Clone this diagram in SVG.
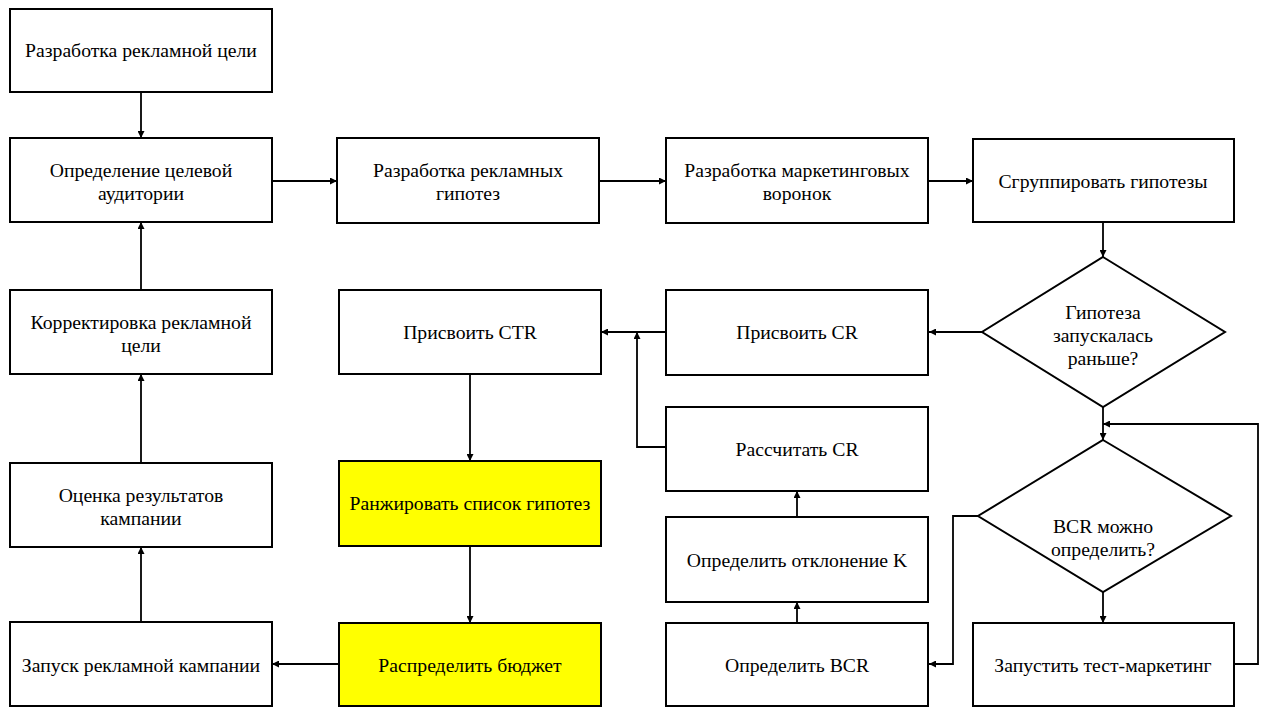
<svg xmlns="http://www.w3.org/2000/svg" width="1264" height="709" viewBox="0 0 1264 709">
  <style>
    .box { fill: #ffffff; stroke: #000000; stroke-width: 2; }
    .hl { fill: #ffff00; }
    .lbl { font-family: 'Liberation Serif', 'DejaVu Serif', serif; font-size: 19.7px; fill: #000000; text-anchor: middle; dominant-baseline: central; }
    .wire { fill: none; stroke: #000000; stroke-width: 1.8; marker-end: url(#arrow); }
  </style>
  <defs>
    <marker id="arrow" viewBox="0 0 10 10" refX="10" refY="5" markerWidth="8" markerHeight="7" markerUnits="userSpaceOnUse" orient="auto">
      <path d="M0,0 L10,5 L0,10 z" fill="#000000"/>
    </marker>
  </defs>
  <rect width="1264" height="709" fill="#ffffff"/>

  <!-- left column -->
  <g id="goal">
    <rect class="box" x="10" y="9" width="262" height="83"/>
    <text class="lbl" x="141" y="50">Разработка рекламной цели</text>
  </g>
  <g id="audience">
    <rect class="box" x="10" y="138" width="262" height="84"/>
    <text class="lbl" x="141" y="170">Определение целевой</text>
    <text class="lbl" x="141" y="193">аудитории</text>
  </g>
  <g id="correct-goal">
    <rect class="box" x="10" y="290" width="262" height="84"/>
    <text class="lbl" x="141" y="322">Корректировка рекламной</text>
    <text class="lbl" x="141" y="345">цели</text>
  </g>
  <g id="evaluate">
    <rect class="box" x="10" y="463" width="262" height="84"/>
    <text class="lbl" x="141" y="495">Оценка результатов</text>
    <text class="lbl" x="141" y="518">кампании</text>
  </g>
  <g id="launch">
    <rect class="box" x="10" y="622" width="262" height="84"/>
    <text class="lbl" x="141" y="665">Запуск рекламной кампании</text>
  </g>

  <!-- second column -->
  <g id="hypotheses">
    <rect class="box" x="337" y="138" width="262" height="85"/>
    <text class="lbl" x="468" y="170">Разработка рекламных</text>
    <text class="lbl" x="468" y="193">гипотез</text>
  </g>
  <g id="assign-ctr">
    <rect class="box" x="339" y="290" width="262" height="84"/>
    <text class="lbl" x="470" y="332">Присвоить CTR</text>
  </g>
  <g id="rank">
    <rect class="box hl" x="339" y="461" width="262" height="85"/>
    <text class="lbl" x="470" y="503">Ранжировать список гипотез</text>
  </g>
  <g id="budget">
    <rect class="box hl" x="339" y="623" width="262" height="83"/>
    <text class="lbl" x="470" y="665">Распределить бюджет</text>
  </g>

  <!-- third column -->
  <g id="funnels">
    <rect class="box" x="666" y="138" width="262" height="85"/>
    <text class="lbl" x="797" y="170">Разработка маркетинговых</text>
    <text class="lbl" x="797" y="193">воронок</text>
  </g>
  <g id="assign-cr">
    <rect class="box" x="666" y="290" width="262" height="85"/>
    <text class="lbl" x="797" y="332">Присвоить CR</text>
  </g>
  <g id="calc-cr">
    <rect class="box" x="666" y="407" width="262" height="84"/>
    <text class="lbl" x="797" y="449">Рассчитать CR</text>
  </g>
  <g id="deviation">
    <rect class="box" x="666" y="517" width="262" height="85"/>
    <text class="lbl" x="797" y="560">Определить отклонение K</text>
  </g>
  <g id="bcr">
    <rect class="box" x="666" y="623" width="262" height="83"/>
    <text class="lbl" x="797" y="665">Определить BCR</text>
  </g>

  <!-- fourth column -->
  <g id="group">
    <rect class="box" x="973" y="139" width="261" height="83"/>
    <text class="lbl" x="1103" y="181">Сгруппировать гипотезы</text>
  </g>
  <g id="launched-before">
    <polygon class="box" points="1103,257 1225,332 1103,407 982,332"/>
    <text class="lbl" x="1103" y="312">Гипотеза</text>
    <text class="lbl" x="1103" y="335">запускалась</text>
    <text class="lbl" x="1103" y="358">раньше?</text>
  </g>
  <g id="bcr-known">
    <polygon class="box" points="1103,440 1231,516 1103,592 978,516"/>
    <text class="lbl" x="1103" y="526">BCR можно</text>
    <text class="lbl" x="1103" y="549">определить?</text>
  </g>
  <g id="test-marketing">
    <rect class="box" x="973" y="623" width="261" height="83"/>
    <text class="lbl" x="1103" y="665">Запустить тест-маркетинг</text>
  </g>

  <!-- connectors -->
  <g id="connectors">
    <path class="wire" d="M141,92 V138"/>
    <path class="wire" d="M272,181 H337"/>
    <path class="wire" d="M599,181 H666"/>
    <path class="wire" d="M928,181 H973"/>
    <path class="wire" d="M1103,222 V257"/>
    <path class="wire" d="M982,332 H929"/>
    <path class="wire" d="M666,332 H601"/>
    <path class="wire" d="M666,447 H637 V332"/>
    <path class="wire" d="M1103,407 V440"/>
    <path class="wire" d="M1234,664 H1258 V424 H1103"/>
    <path class="wire" d="M978,516 H953 V664 H929"/>
    <path class="wire" d="M1103,592 V623"/>
    <path class="wire" d="M797,623 V602"/>
    <path class="wire" d="M797,517 V491"/>
    <path class="wire" d="M470,374 V461"/>
    <path class="wire" d="M470,546 V623"/>
    <path class="wire" d="M339,664 H272"/>
    <path class="wire" d="M141,622 V547"/>
    <path class="wire" d="M141,463 V374"/>
    <path class="wire" d="M141,290 V222"/>
  </g>
</svg>
